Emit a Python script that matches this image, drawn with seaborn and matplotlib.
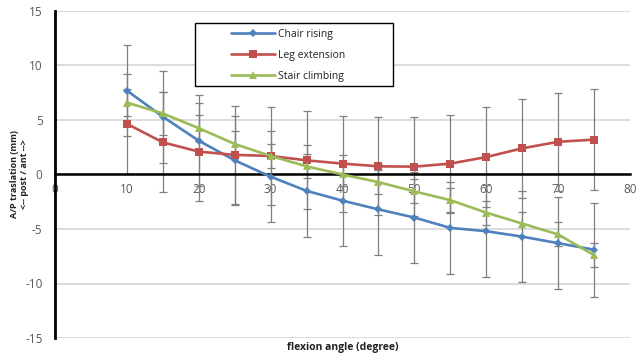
import numpy as np
import pandas as pd
import matplotlib
matplotlib.use("Agg")
import matplotlib.pyplot as plt
import seaborn as sns
from matplotlib.patches import Rectangle

# ---- data ----
flexion = [10, 15, 20, 25, 30, 35, 40, 45, 50, 55, 60, 65, 70, 75]
chair_rising = [7.7, 5.3, 3.1, 1.3, -0.2, -1.5, -2.4, -3.2, -3.95, -4.9, -5.2, -5.7, -6.3, -6.9]
chair_err = [4.2, 4.2, 4.2, 4.1, 4.2, 4.2, 4.2, 4.2, 4.2, 4.2, 4.2, 4.2, 4.2, 4.3]
leg_extension = [4.65, 2.95, 2.1, 1.8, 1.7, 1.3, 1.0, 0.75, 0.72, 1.0, 1.6, 2.4, 3.0, 3.2]
leg_err = [4.6, 4.6, 4.5, 4.5, 4.5, 4.5, 4.4, 4.5, 4.55, 4.5, 4.6, 4.55, 4.5, 4.6]
stair_climbing = [6.6, 5.6, 4.25, 2.8, 1.7, 0.75, 0.0, -0.7, -1.55, -2.35, -3.5, -4.5, -5.5, -7.4]
stair_err = [1.2, 2.0, 1.2, 1.2, 1.1, 1.1, 1.1, 1.1, 1.1, 1.1, 1.1, 1.1, 1.1, 1.1]
series_names = ["Chair rising", "Leg extension", "Stair climbing"]
x_ticks = [0, 10, 20, 30, 40, 50, 60, 70, 80]
y_ticks = [-15, -10, -5, 0, 5, 10, 15]

colors = ["#4F81BD", "#C0504D", "#9BBB59"]
markers = ["D", "s", "^"]
msizes = [4.5, 5.5, 5.5]

df = pd.DataFrame({
    "flexion": flexion * 3,
    "value": chair_rising + leg_extension + stair_climbing,
    "err": chair_err + leg_err + stair_err,
    "series": [s for s in series_names for _ in flexion],
})

sns.set_theme(style="white")
plt.rcParams["font.family"] = ["Open Sans", "DejaVu Sans"]
plt.rcParams["axes.unicode_minus"] = False

fig = plt.figure(figsize=(6.36, 3.55), dpi=100)
ax = fig.add_axes([55 / 636, 1 - 338 / 355, 575 / 636, 327 / 355])

# error bars
for name in series_names:
    sub = df[df.series == name]
    ax.errorbar(sub.flexion, sub.value, yerr=sub.err, fmt="none",
                ecolor="#7f7f7f", elinewidth=0.9, capsize=3, capthick=0.9, zorder=2)

sns.lineplot(data=df, x="flexion", y="value", hue="series", style="series",
             hue_order=series_names, style_order=series_names,
             palette=colors, markers=markers, dashes=False, linewidth=1.9,
             markeredgewidth=0, ax=ax, zorder=3, legend=False, sort=False)
for line, ms in zip(ax.lines[-3:], msizes):
    line.set_markersize(ms)

ax.set_xlim(0, 80)
ax.set_ylim(-15, 15)
ax.set_xticks(x_ticks)
ax.set_yticks(y_ticks)
ax.yaxis.grid(True, color="#d9d9d9", linewidth=1.3)
ax.xaxis.grid(False)
ax.set_axisbelow(True)

for s in ["top", "right"]:
    ax.spines[s].set_visible(False)
ax.spines["bottom"].set_position(("data", 0))
ax.spines["bottom"].set_color("black")
ax.spines["bottom"].set_linewidth(1.8)
ax.spines["bottom"].set_zorder(2.5)
ax.spines["left"].set_color("black")
ax.spines["left"].set_linewidth(2.0)

ax.tick_params(axis="x", length=0, pad=6, labelsize=8.5, labelcolor="#595959")
ax.tick_params(axis="y", length=0, pad=9, labelsize=8.5, labelcolor="#595959")

ax.set_xlabel("flexion angle (degree)", fontsize=7.5, fontweight="bold", color="#222222")
ax.xaxis.set_label_coords(0.5, -0.012)
ax.set_ylabel("A/P traslation (mm)\n<-- post / ant -->", fontsize=6.5,
              fontweight="bold", color="#222222", linespacing=1.1)
ax.yaxis.set_label_coords(-0.046, 0.5)

# legend
handles = ax.lines[-3:]
leg = fig.legend(handles, series_names, loc="upper left",
                 bbox_to_anchor=(231 / 636, 1 - 29 / 355), frameon=False,
                 fontsize=7.5, handlelength=4.2, handletextpad=0.3,
                 labelspacing=0.95, borderpad=0, borderaxespad=0)
for t in leg.get_texts():
    t.set_color("#222222")
fig.add_artist(Rectangle((195 / 636, 1 - 86 / 355), 198 / 636, 63 / 355,
                         transform=fig.transFigure, fill=True, facecolor="white",
                         edgecolor="black", linewidth=1.0, zorder=0.5))
leg.set_zorder(5)

fig.savefig("out.png", dpi=100)
